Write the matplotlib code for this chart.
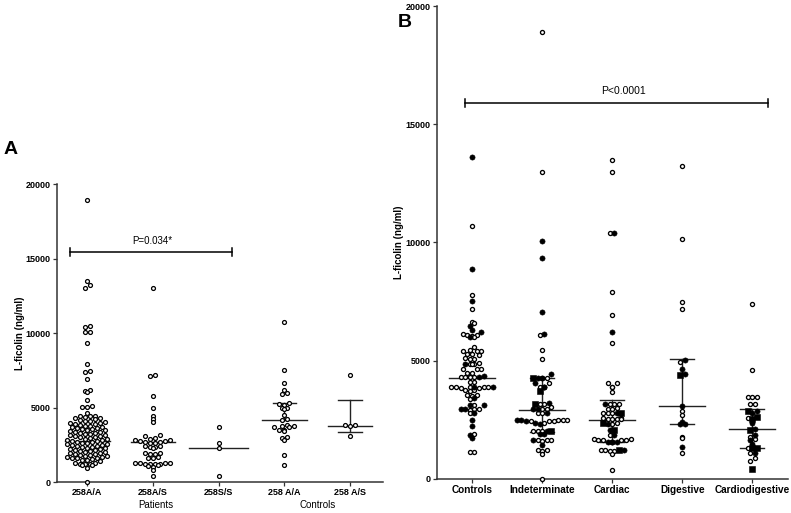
import numpy as np
import matplotlib
matplotlib.use('Agg')
import matplotlib.pyplot as plt

plt.rcParams['font.family'] = ['Liberation Sans', 'DejaVu Sans']

# ---- Panel A data (ng/ml) ----
a_groups = ['258A/A', '258A/S', '258S/S', '258 A/A', '258 A/S']

pat_aa = [18900, 13500, 13250, 13000, 10450, 10400, 10100, 10050, 9350, 7900,
          7450, 7350, 6900, 6180, 6100, 6050, 5500, 5100, 5050, 5050, 4650,
          4450, 4450, 4400,
          4380, 4320, 4280, 4220, 4180,
          4120, 4080, 4030, 3990, 3960, 3920,
          3870, 3830, 3790, 3760, 3720, 3690, 3650,
          3600, 3560, 3530, 3490, 3460, 3420, 3390,
          3340, 3300, 3270, 3230, 3200, 3160, 3130, 3100,
          3060, 3020, 2990, 2950, 2920, 2880, 2850, 2820,
          2780, 2740, 2710, 2680, 2640, 2610, 2580,
          2540, 2500, 2470, 2440, 2400, 2370, 2340, 2310,
          2270, 2230, 2200, 2170, 2140, 2100, 2070, 2040,
          2000, 1960, 1930, 1900, 1870, 1840, 1810,
          1770, 1730, 1700, 1670, 1640, 1610, 1580,
          1540, 1500, 1470, 1440,
          1300, 1270, 1240, 1210, 1180, 1150, 1120,
          950, 0]
pat_as = [13000, 7200, 7100, 5750, 4950, 4400, 4220, 4020, 3170, 3100, 2950,
          2900, 2850, 2800, 2780, 2750, 2700, 2680, 2650, 2600, 2420, 2400,
          2380, 2350, 2300, 1950, 1920, 1900, 1880, 1650, 1600, 1580, 1300,
          1280, 1270, 1250, 1240, 1220, 1200, 1180, 1150, 1050, 1020, 780, 380]
pat_ss = [3700, 2650, 2250, 420]
ctl_aa = [10750, 7530, 6630, 6180, 5950, 5900, 5300, 5250, 5200, 4960, 4950,
          4900, 4500, 4200, 4150, 3800, 3780, 3750, 3720, 3700, 3500, 3480,
          3450, 3000, 2950, 2800, 1780, 1160]
ctl_as = [7200, 3820, 3780, 3800, 3060]

a_values = [pat_aa, pat_as, pat_ss, ctl_aa, ctl_as]
a_center = [2750, 2700, 2250, 4150, 3790]
a_upper = [None, None, None, 5330, 5520]
a_lower = [None, None, None, None, 3390]

# ---- Panel B data (ng/ml): open circle, filled circle, filled square ----
b_groups = ['Controls', 'Indeterminate', 'Cardiac', 'Digestive',
            'Cardiodigestive']

ctrl_open = [10700, 7800, 7200, 6650, 6600, 6150, 6100, 6080, 6050, 6000,
             5560, 5450, 5430, 5420, 5400, 5280, 5270, 5250, 5100, 5090, 5080,
             4890, 4880, 4870, 4860, 4650, 4640, 4630, 4500, 4490, 4330, 4320,
             4310, 4300, 4100, 4090, 3900, 3890, 3880, 3870, 3860, 3850, 3880,
             3760, 3750, 3740, 3550, 3540, 3530, 3400, 3130, 2950, 2940, 2930,
             2770, 1920, 1150, 1140]
ctrl_filled = [13600, 8890, 7510, 6450, 6290, 6220, 5990, 4880, 4340, 4320,
               3900, 3890, 3410, 3120, 3110, 2950, 2940, 2770, 2490, 2250,
               1860, 1720]
ctrl_square = []

indet_open = [18900, 13000, 6080, 5470, 5090, 4290, 4280, 4060, 3900, 3190,
              3180, 3050, 2950, 2940, 2800, 2780, 2500, 2490, 2480, 2470, 2460,
              2450, 2350, 2040, 2030, 2020, 1650, 1640, 1630, 1620, 1220, 1210,
              1200, 1050, 0]
indet_filled = [10080, 9360, 7070, 6120, 4460, 4280, 4270, 4050, 3900, 3890,
                3200, 2950, 2940, 2800, 2490, 2480, 2470, 2350, 2340, 2030,
                1900, 1890, 1640, 1450]
indet_square = [4290, 3710, 3190, 2040]

card_open = [13500, 13000, 10400, 7900, 6920, 5750, 4050, 4040, 3900, 3890,
             3680, 3170, 3160, 3150, 2990, 2980, 2970, 2810, 2800, 2790, 2570,
             2560, 2550, 2540, 2530, 2520, 2350, 2340, 1860, 1680, 1670, 1660,
             1650, 1640, 1630, 1220, 1210, 1200, 1190, 1050, 380]
card_filled = [10400, 6220, 3160, 2800, 2340, 2060, 1860, 1580, 1570, 1560,
               1550, 1220]
card_square = [2810, 2350, 2070, 1210]

dig_open = [13250, 10150, 7480, 7200, 4950, 2880, 2700, 1790, 1750, 1120]
dig_filled = [5050, 4670, 4420, 3100, 2420, 2320, 2310, 1360]
dig_square = [4400]

cdig_open = [7380, 4620, 3480, 3470, 3460, 3160, 3150, 2580, 1790, 1700, 1300,
             1080, 870, 780]
cdig_filled = [2870, 2770, 2350, 2120, 1850, 1650, 1500, 1080]
cdig_square = [2860, 2630, 2550, 2070, 1300, 1290, 410]

b_open = [ctrl_open, indet_open, card_open, dig_open, cdig_open]
b_filled = [ctrl_filled, indet_filled, card_filled, dig_filled, cdig_filled]
b_square = [ctrl_square, indet_square, card_square, dig_square, cdig_square]
b_center = [4250, 2900, 2500, 3100, 2100]
b_upper = [None, 4270, 3330, 5070, 2940]
b_lower = [None, 2000, 1575, 2320, 1300]


def row_x(ax, xc, values, d, h):
    # GraphPad-like scatter: points binned into rows (h px high),
    # spread sideways d px apart, centre out
    vals = np.asarray(values, dtype=float)
    pts = ax.transData.transform(np.column_stack([np.full(len(vals), xc), vals]))
    y0 = ax.transData.transform((xc, 0))[1]
    bins = np.floor((pts[:, 1] - y0) / h).astype(int)
    offs = np.zeros(len(vals))
    for b in np.unique(bins):
        idx = np.where(bins == b)[0]
        idx = idx[np.argsort(vals[idx], kind='stable')]
        n = len(idx)
        slots = (np.arange(n) - (n - 1) / 2.0) * d
        order = np.argsort(np.abs(slots) + 1e-3 * np.sign(slots), kind='stable')
        for k, j in enumerate(idx):
            offs[j] = slots[order[k]]
    back = ax.transData.inverted().transform(
        np.column_stack([pts[:, 0] + offs, pts[:, 1]]))
    return back[:, 0]


def style_axes(ax):
    for side in ['top', 'right']:
        ax.spines[side].set_visible(False)
    for side in ['left', 'bottom']:
        ax.spines[side].set_linewidth(1.1)
        ax.spines[side].set_color('#333333')
    ax.tick_params(direction='out', length=3, width=0.9, color='#333333',
                   labelsize=6.5, pad=1.5)
    for lab in ax.get_yticklabels() + ax.get_xticklabels():
        lab.set_fontweight('bold')


def draw_summary(ax, x, center, upper, lower, half_line, half_cap):
    ax.plot([x - half_line, x + half_line], [center, center],
            color='#222222', lw=1.0, zorder=1)
    if upper is not None:
        low = lower if lower is not None else center
        ax.plot([x, x], [low, upper], color='#222222', lw=1.0, zorder=1)
        ax.plot([x - half_cap, x + half_cap], [upper, upper],
                color='#222222', lw=1.0, zorder=1)
        if lower is not None:
            ax.plot([x - half_cap, x + half_cap], [lower, lower],
                    color='#222222', lw=1.0, zorder=1)


fig = plt.figure(figsize=(7.91, 5.13), dpi=100)

# ---------------- Panel A ----------------
axA = fig.add_axes([0.0721, 0.0604, 0.4121, 0.5809])
axA.set_xlim(-0.46, 4.5)
axA.set_ylim(0, 20000)
axA.set_yticks([0, 5000, 10000, 15000, 20000])
axA.set_xticks(range(len(a_groups)))
axA.set_xticklabels(a_groups)
style_axes(axA)
axA.set_ylabel('L-ficolin (ng/ml)', fontsize=7, fontweight='bold')
axA.yaxis.set_label_coords(-0.098, 0.5)

for i, vals in enumerate(a_values):
    xs = row_x(axA, i, vals, 5.0, 4.3)
    axA.scatter(xs, vals, s=8, facecolors='white', edgecolors='black',
                linewidths=0.9, zorder=3, clip_on=False)
    draw_summary(axA, i, a_center[i], a_upper[i], a_lower[i],
                 0.45 if i == 2 else 0.34, 0.18)

axA.plot([-0.27, 2.2], [15415, 15415], color='black', lw=1.1)
for xe in [-0.27, 2.2]:
    axA.plot([xe, xe], [15150, 15680], color='black', lw=1.1)
axA.text(0.99, 16200, 'P=0.034*', ha='center', va='center', fontsize=7)

for label, xg in [('Patients', 1.05), ('Controls', 3.5)]:
    axA.annotate(label, xy=(xg, 0), xycoords=('data', 'axes fraction'),
                 xytext=(0, -16.5), textcoords='offset points',
                 ha='center', va='center', fontsize=7)

fig.text(0.004, 0.692, 'A', fontsize=14, fontweight='bold', va='bottom')

# ---------------- Panel B ----------------
axB = fig.add_axes([0.5525, 0.0663, 0.4437, 0.922])
axB.set_xlim(-0.5, 4.51)
axB.set_ylim(0, 20000)
axB.set_yticks([0, 5000, 10000, 15000, 20000])
axB.set_xticks(range(len(b_groups)))
axB.set_xticklabels(b_groups)
style_axes(axB)
axB.tick_params(axis='x', labelsize=7.2)
axB.set_ylabel('L-ficolin (ng/ml)', fontsize=7, fontweight='bold')
axB.yaxis.set_label_coords(-0.094, 0.5)

for i in range(len(b_groups)):
    vals = b_open[i] + b_filled[i] + b_square[i]
    kinds = ['o'] * len(b_open[i]) + ['f'] * len(b_filled[i]) + ['s'] * len(b_square[i])
    xs = row_x(axB, i, vals, 4.6, 4.6)
    vals = np.asarray(vals)
    kinds = np.asarray(kinds)
    m = kinds == 'o'
    axB.scatter(xs[m], vals[m], s=8.5, facecolors='white', edgecolors='black',
                linewidths=0.95, zorder=3, clip_on=False)
    m = kinds == 'f'
    axB.scatter(xs[m], vals[m], s=14, facecolors='black', edgecolors='black',
                linewidths=0.4, zorder=3, clip_on=False)
    m = kinds == 's'
    axB.scatter(xs[m], vals[m], s=14, marker='s', facecolors='black',
                edgecolors='black', linewidths=0.4, zorder=3, clip_on=False)
    draw_summary(axB, i, b_center[i], b_upper[i], b_lower[i], 0.33, 0.17)

axB.plot([-0.1, 4.22], [15900, 15900], color='black', lw=1.1)
for xe in [-0.1, 4.22]:
    axB.plot([xe, xe], [15730, 16070], color='black', lw=1.1)
axB.text(2.16, 16420, 'P<0.0001', ha='center', va='center', fontsize=7.5)

fig.text(0.503, 0.947, 'B', fontsize=14, fontweight='bold', va='baseline')

fig.savefig('out.png', dpi=100)
